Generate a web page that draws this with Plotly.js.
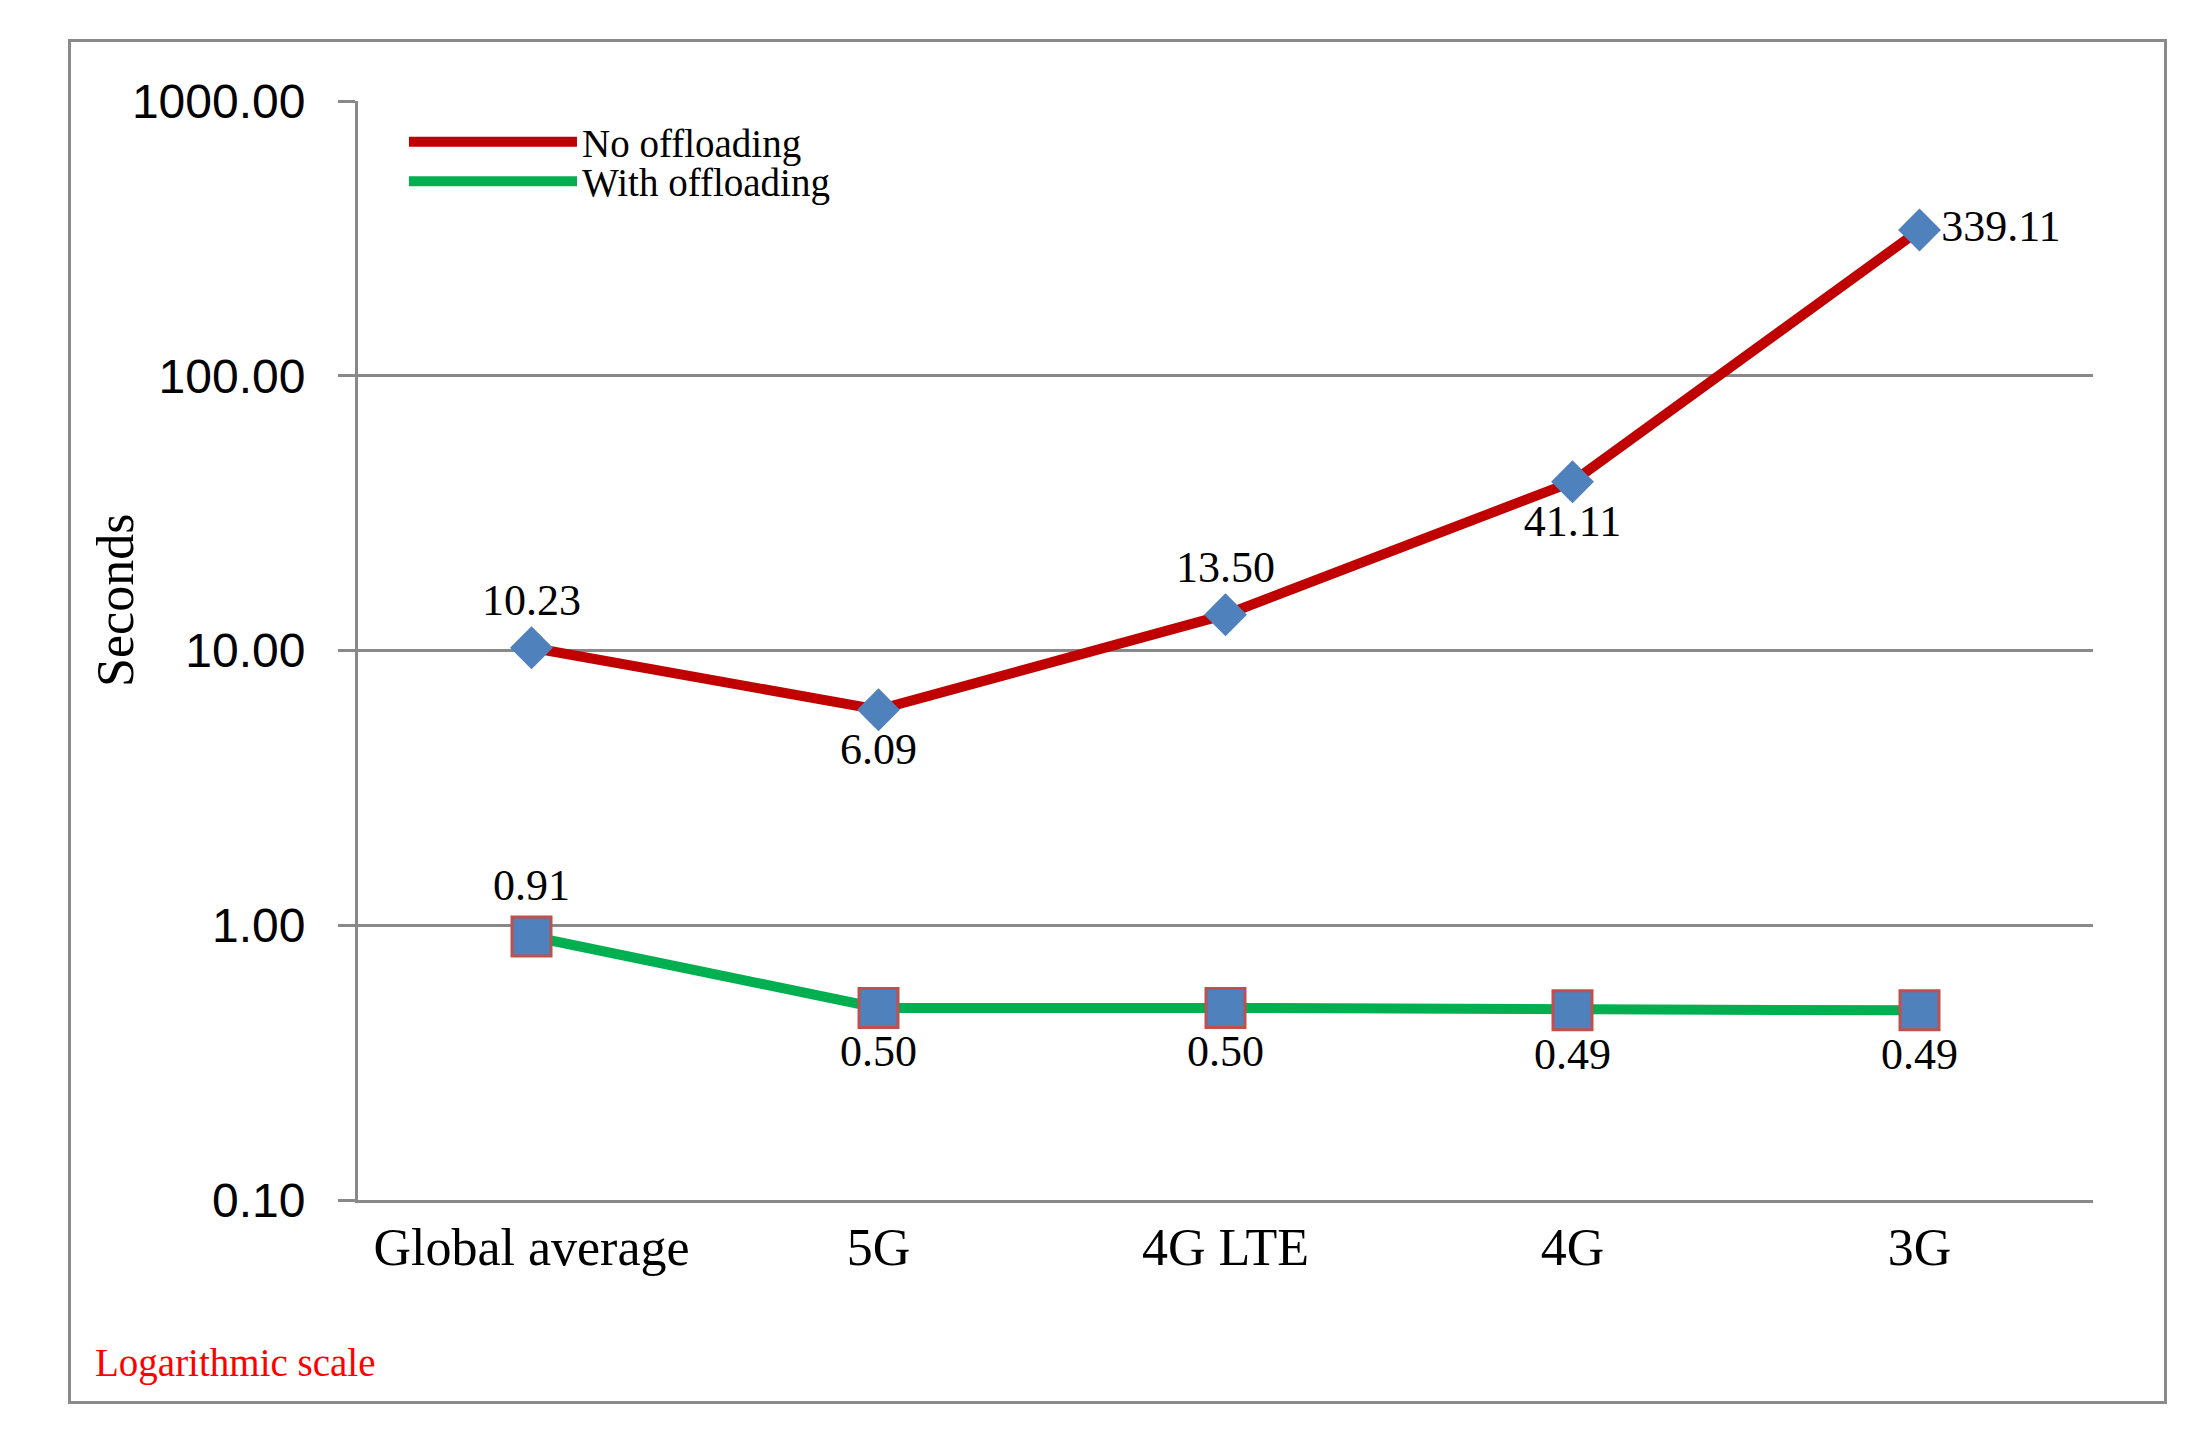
<!DOCTYPE html>
<html>
<head>
<meta charset="utf-8">
<script src="https://cdn.plot.ly/plotly-3.0.1.min.js"></script>
<style>
  html, body { margin: 0; padding: 0; background: #ffffff; }
  #frame { position: absolute; left: 68px; top: 39px; width: 2093px; height: 1359px;
           border: 3px solid #8a8a8a; background: #ffffff; }
  #chart { width: 2093px; height: 1359px; }
</style>
</head>
<body>
<div id="frame"><div id="chart"></div></div>
<script>
const categories = ['Global average', '5G', '4G LTE', '4G', '3G'];
const noOffloading = [10.23, 6.09, 13.50, 41.11, 339.11];
const withOffloading = [0.91, 0.50, 0.50, 0.49, 0.49];
const noOffloadingLabelPos = ['top center', 'bottom center', 'top center', 'bottom center', 'middle right'];
const withOffloadingLabelPos = ['top center', 'bottom center', 'bottom center', 'bottom center', 'bottom center'];
const yTickVals = [0.1, 1, 10, 100, 1000];
const yTickText = ['0.10', '1.00', '10.00', '100.00', '1000.00'];

const serif = 'Liberation Serif, Times New Roman, serif';
const gridGray = '#898989';
const labelFont = { family: serif, size: 44, color: '#000000' };

const traces = [
  // connecting lines (shown in legends)
  {
    name: 'No offloading', legend: 'legend',
    x: categories, y: noOffloading,
    type: 'scatter', mode: 'lines',
    line: { color: '#C00000', width: 10 },
    hoverinfo: 'skip'
  },
  {
    name: 'With offloading', legend: 'legend2',
    x: categories, y: withOffloading,
    type: 'scatter', mode: 'lines',
    line: { color: '#00B050', width: 10 },
    hoverinfo: 'skip'
  },
  // markers and value labels
  {
    name: 'No offloading', showlegend: false,
    x: categories, y: noOffloading,
    type: 'scatter', mode: 'markers+text',
    marker: { symbol: 'diamond', size: 33, color: '#4F81BD', line: { width: 0 } },
    texttemplate: '%{y:.2f}',
    textposition: noOffloadingLabelPos,
    textfont: labelFont,
    cliponaxis: false,
    hoverinfo: 'x+y'
  },
  {
    name: 'With offloading', showlegend: false,
    x: categories, y: withOffloading,
    type: 'scatter', mode: 'markers+text',
    marker: { symbol: 'square', size: 39, color: '#4F81BD', line: { width: 3, color: '#C0504D' } },
    texttemplate: '%{y:.2f}',
    textposition: withOffloadingLabelPos,
    textfont: labelFont,
    cliponaxis: false,
    hoverinfo: 'x+y'
  }
];

const legendBase = {
  xanchor: 'left', yanchor: 'top',
  font: { family: serif, size: 39, color: '#000000' },
  bgcolor: 'rgba(0,0,0,0)', itemwidth: 168
};

const layout = {
  width: 2093, height: 1359,
  margin: { l: 287, r: 71, t: 59, b: 201 },
  paper_bgcolor: '#ffffff', plot_bgcolor: '#ffffff',
  showlegend: true,
  legend: Object.assign({}, legendBase, { x: 0.0265, y: 0.992 }),
  legend2: Object.assign({}, legendBase, { x: 0.0265, y: 0.956 }),
  xaxis: {
    type: 'category',
    range: [-0.5, 4.5],
    showgrid: false, zeroline: false,
    showline: true, linecolor: gridGray, linewidth: 3,
    ticks: '',
    tickfont: { family: serif, size: 52, color: '#000000' },
    ticklabelstandoff: 0
  },
  yaxis: {
    type: 'log',
    range: [-1, 3],
    tickvals: yTickVals, ticktext: yTickText,
    showgrid: true, gridcolor: gridGray, gridwidth: 3,
    zeroline: false,
    showline: true, linecolor: gridGray, linewidth: 3,
    ticks: 'outside', ticklen: 17, tickwidth: 3, tickcolor: gridGray,
    tickfont: { family: 'Liberation Sans, Arial, sans-serif', size: 48, color: '#000000' },
    ticklabelstandoff: 23
  },
  annotations: [
    {
      text: 'Seconds', xref: 'paper', yref: 'paper',
      x: -0.1395, y: 0.546, xanchor: 'center', yanchor: 'middle', textangle: -90,
      showarrow: false,
      font: { family: serif, size: 52, color: '#000000' }
    },
    {
      text: 'Logarithmic scale', xref: 'paper', yref: 'paper',
      x: -0.1527, y: -0.1483, xanchor: 'left', yanchor: 'middle', showarrow: false,
      font: { family: serif, size: 39, color: '#FF0000' }
    }
  ]
};

Plotly.newPlot('chart', traces, layout, { displayModeBar: false });
</script>
</body>
</html>
